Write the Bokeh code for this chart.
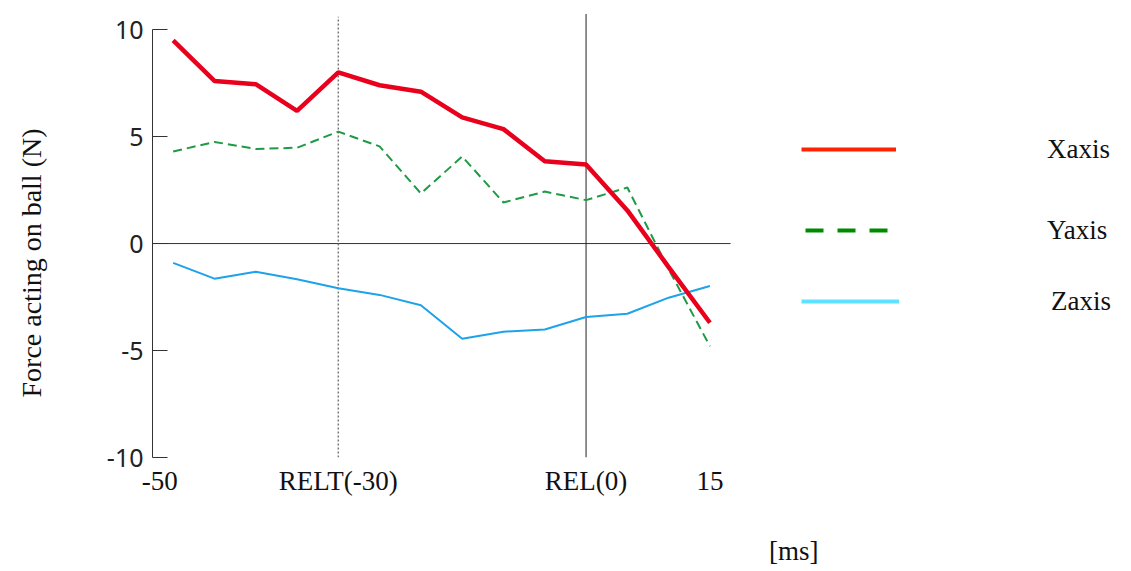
from bokeh.plotting import figure
from bokeh.models import (LinearAxis, FixedTicker, Legend, LegendItem, Range1d,
                          ColumnDataSource)
from bokeh.embed import file_html
from bokeh.resources import INLINE

# ---- data ----
time_ms = [-50, -45, -40, -35, -30, -25, -20, -15, -10, -5, 0, 5, 10, 15]
x_axis_force = [9.5, 7.6, 7.45, 6.2, 8.0, 7.4, 7.1, 5.9, 5.35, 3.85, 3.7, 1.55, -1.1, -3.7]
y_axis_force = [4.3, 4.75, 4.42, 4.48, 5.23, 4.54, 2.34, 4.07, 1.92, 2.43, 2.03, 2.62, -1.2, -4.8]
z_axis_force = [-0.9, -1.64, -1.32, -1.67, -2.09, -2.4, -2.88, -4.45, -4.12, -4.02, -3.43, -3.28, -2.53, -1.98]
x_tick_values = [-50, -30, 0, 15]
x_tick_labels = ["-50", "RELT(-30)", "REL(0)", "15"]
y_tick_values = [-10, -5, 0, 5, 10]
y_tick_labels = ["-10", "-5", "0", "5", "10"]
series_names = ["Xaxis", "Yaxis", "Zaxis"]
x_title = "[ms]"
y_title = "Force acting on ball (N)"
relt_time = -30
rel_time = 0
nan = float("nan")

SERIF = "Liberation Serif"
NBSP = "\u00a0"

p = figure(width=1128, height=571, output_backend="svg", toolbar_location=None,
           x_range=Range1d(-52.5, 65.2), y_range=Range1d(-10, 10.8),
           min_border_left=152, min_border_right=4, min_border_top=12, min_border_bottom=114,
           x_axis_type=None, y_axis_type=None)
p.outline_line_color = None
p.background_fill_color = "white"
p.border_fill_color = "white"

# x axis (below): labels only; the first label sits a little left of its tick in the reference
x_label_map = {v: s for v, s in zip(x_tick_values, x_tick_labels)}
x_label_map[x_tick_values[0]] = x_tick_labels[0] + NBSP * 4
xax = LinearAxis(ticker=FixedTicker(ticks=x_tick_values), major_label_overrides=x_label_map)
xax.axis_line_color = None
xax.major_tick_line_color = None
xax.major_tick_out = 0
xax.major_tick_in = 0
xax.minor_tick_line_color = None
xax.major_label_text_font = SERIF
xax.major_label_text_font_size = "27px"
xax.major_label_text_color = "#111111"
xax.major_label_standoff = 8
# leading no-break spaces move the centred title to the right, as in the reference
xax.axis_label = NBSP * 46 + x_title
xax.axis_label_text_font = SERIF
xax.axis_label_text_font_size = "27px"
xax.axis_label_text_font_style = "normal"
xax.axis_label_text_color = "#111111"
xax.axis_label_standoff = 37
p.add_layout(xax, "below")

# y axis (left)
yax = LinearAxis(ticker=FixedTicker(ticks=y_tick_values), bounds=(-10, 10),
                 major_label_overrides={v: s for v, s in zip(y_tick_values, y_tick_labels)})
yax.axis_line_color = "#333333"
yax.axis_line_width = 1
yax.major_tick_line_color = "#333333"
yax.major_tick_in = 15
yax.major_tick_out = 0
yax.minor_tick_line_color = None
yax.major_label_text_font = "Noto Sans"
yax.major_label_text_font_size = "25px"
yax.major_label_text_color = "#222222"
yax.major_label_standoff = 9
# trailing no-break spaces move the centred title down, as in the reference
yax.axis_label = y_title + NBSP * 8
yax.axis_label_text_font = SERIF
yax.axis_label_text_font_size = "28px"
yax.axis_label_text_font_style = "normal"
yax.axis_label_text_color = "#111111"
yax.axis_label_standoff = 57
p.add_layout(yax, "left")

# reference lines
p.segment(x0=[-52.5], y0=[0], x1=[17.5], y1=[0], line_color="#333333", line_width=1)
p.segment(x0=[relt_time], y0=[-10], x1=[relt_time], y1=[10.6],
          line_color="#777777", line_width=1.5, line_dash="2 2")
p.segment(x0=[rel_time], y0=[-10], x1=[rel_time], y1=[10.73],
          line_color="#222222", line_width=1)

src = ColumnDataSource(dict(t=time_ms, fx=x_axis_force, fy=y_axis_force, fz=z_axis_force))
p.line("t", "fz", source=src, line_color="#1ea2ea", line_width=2)
p.line("t", "fy", source=src, line_color="#1f9a45", line_width=2, line_dash="9 5")
p.line("t", "fx", source=src, line_color="#e8001c", line_width=4.5)

# legend glyph renderers (legend styling differs from the plotted lines; no visible data)
lg_x = p.line(x=[nan], y=[nan], line_color="#ff2200", line_width=4)
lg_y = p.line(x=[nan], y=[nan], line_color="#008a00", line_width=4, line_dash="18 14")
lg_z = p.line(x=[nan], y=[nan], line_color="#5ee2ff", line_width=4)

def make_legend(name, rend, loc, gw, standoff):
    lg = Legend(items=[LegendItem(label=name, renderers=[rend])], location=loc,
                glyph_width=gw, glyph_height=38, label_height=28,
                label_standoff=standoff, padding=0, margin=0, spacing=0,
                border_line_color=None, background_fill_alpha=0,
                label_text_font=SERIF, label_text_font_size="27px",
                label_text_color="#111111")
    p.add_layout(lg, "center")

make_legend(series_names[0], lg_x, (649, 289), 95, 151)
make_legend(series_names[1], lg_y, (653, 208), 84, 158)
make_legend(series_names[2], lg_z, (649, 137), 98, 152)

open("out.html", "w").write(file_html(p, INLINE))
